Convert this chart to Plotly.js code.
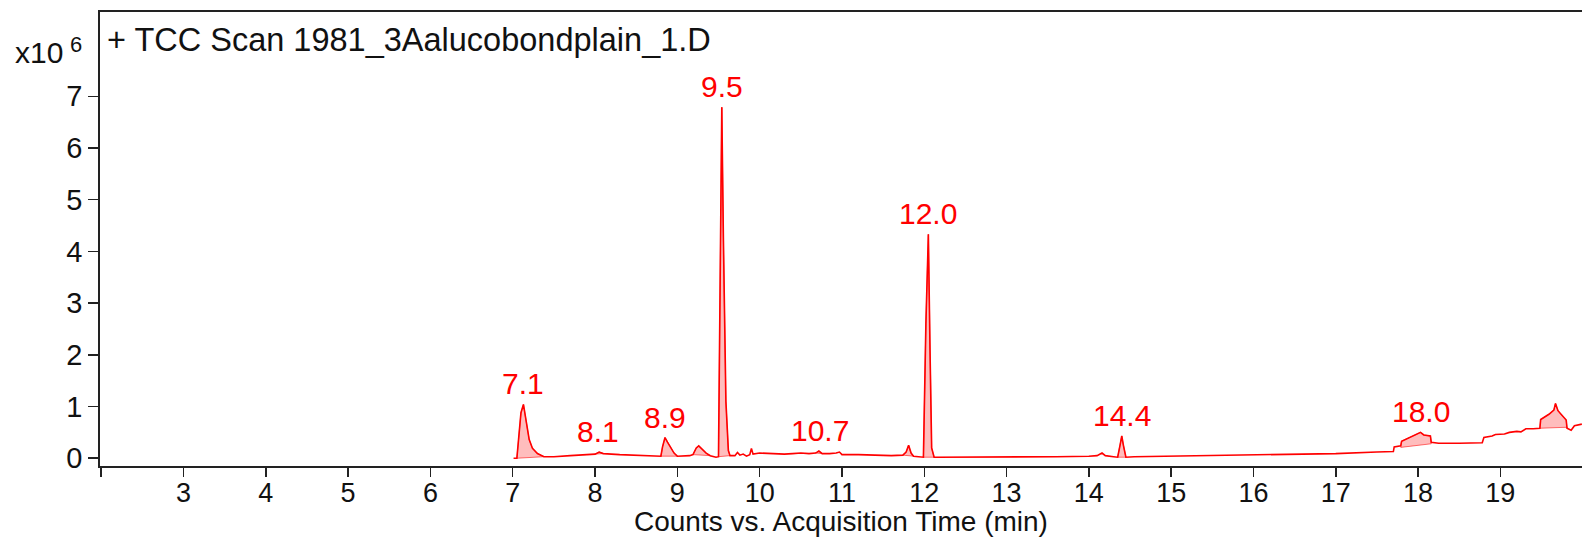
<!DOCTYPE html>
<html><head><meta charset="utf-8">
<script src="https://cdn.plot.ly/plotly-3.0.1.min.js"></script>
<style>html,body{margin:0;padding:0;background:#fff;overflow:hidden}#chart{width:1582px;height:537px}</style>
</head><body><div id="chart"></div>
<script>
// Retention time (min)
const times = [
 7.01, 7.05, 7.07, 7.10, 7.13, 7.16, 7.20, 7.24, 7.30, 7.38, 7.50, 7.70, 7.90, 8.00, 8.05, 8.10,
 8.30, 8.50, 8.70, 8.80, 8.82, 8.85, 8.88, 8.92, 8.96, 9.00, 9.15, 9.19, 9.23, 9.26, 9.30, 9.35,
 9.40, 9.47, 9.50, 9.52, 9.54, 9.56, 9.59, 9.62, 9.64, 9.70, 9.73, 9.76, 9.80, 9.84, 9.88, 9.90,
 9.92, 10.00, 10.10, 10.20, 10.30, 10.40, 10.50, 10.60, 10.68, 10.72, 10.76, 10.85, 10.93, 10.97,
 11.00, 11.20, 11.40, 11.60, 11.74, 11.78, 11.81, 11.84, 11.87, 11.95, 11.99, 12.02, 12.05, 12.07,
 12.09, 12.12, 12.40, 12.80, 13.20, 13.60, 14.00, 14.10, 14.16, 14.20, 14.30, 14.35, 14.38, 14.40,
 14.42, 14.45, 14.55, 15.00, 15.50, 16.00, 16.50, 17.00, 17.50, 17.70, 17.71, 17.79, 17.80, 17.93,
 18.03, 18.07, 18.15, 18.16, 18.25, 18.50, 18.78, 18.80, 18.90, 18.94, 19.05, 19.11, 19.20, 19.25,
 19.31, 19.40, 19.48, 19.49, 19.59, 19.65, 19.67, 19.70, 19.75, 19.80, 19.81, 19.86, 19.90, 19.99
];
// Counts (x10^6)
const counts = [
 0.00, 0.00, 0.35, 0.88, 1.04, 0.72, 0.36, 0.19, 0.09, 0.03, 0.03, 0.05, 0.07, 0.08, 0.12, 0.09,
 0.07, 0.06, 0.05, 0.04, 0.22, 0.40, 0.31, 0.20, 0.10, 0.04, 0.05, 0.07, 0.20, 0.24, 0.18, 0.10,
 0.05, 0.02, 0.03, 3.10, 6.79, 4.20, 1.10, 0.15, 0.05, 0.05, 0.11, 0.06, 0.08, 0.04, 0.07, 0.19,
 0.08, 0.10, 0.09, 0.09, 0.08, 0.09, 0.10, 0.09, 0.10, 0.14, 0.09, 0.09, 0.10, 0.12,
 0.07, 0.07, 0.06, 0.05, 0.06, 0.12, 0.25, 0.10, 0.04, 0.03, 0.02, 2.60, 4.33, 2.10,
 0.20, 0.02, 0.02, 0.02, 0.03, 0.03, 0.04, 0.05, 0.10, 0.05, 0.03, 0.02, 0.26, 0.43,
 0.25, 0.02, 0.03, 0.04, 0.05, 0.06, 0.08, 0.09, 0.12, 0.13, 0.22, 0.24, 0.33, 0.42,
 0.50, 0.45, 0.43, 0.31, 0.29, 0.29, 0.30, 0.40, 0.43, 0.46, 0.47, 0.50, 0.52, 0.51,
 0.57, 0.57, 0.58, 0.75, 0.85, 0.93, 1.06, 0.92, 0.82, 0.74, 0.58, 0.54, 0.63, 0.66
];
// Integrated peaks: window start/end and baseline values there
const integStart   = [7.05, 8.00, 8.80, 9.19, 9.50, 10.68, 11.74, 11.99, 14.35, 17.79, 19.48];
const integEnd     = [7.38, 8.10, 9.00, 9.40, 9.64, 10.76, 11.87, 12.12, 14.45, 18.16, 19.81];
const baseAtStart  = [0.00, 0.08, 0.04, 0.07, 0.03, 0.10, 0.06, 0.02, 0.02, 0.21, 0.58];
const baseAtEnd    = [0.03, 0.09, 0.04, 0.05, 0.05, 0.09, 0.04, 0.02, 0.02, 0.28, 0.60];
// Peak labels
const peakLabels      = ['7.1', '8.1', '8.9', '9.5', '10.7', '12.0', '14.4', '18.0'];
const peakLabelTimes  = [7.13, 8.04, 8.85, 9.54, 10.73, 12.05, 14.40, 18.04];
const peakLabelCounts = [1.04, 0.13, 0.40, 6.79, 0.14, 4.33, 0.43, 0.50];
// Axis ticks
const xTickVals = [2,3,4,5,6,7,8,9,10,11,12,13,14,15,16,17,18,19];
const xTickText = ['','3','4','5','6','7','8','9','10','11','12','13','14','15','16','17','18','19'];
const yTickVals = [0,1,2,3,4,5,6,7];
const xAxisTitle = 'Counts vs. Acquisition Time (min)';

const FONT = 'Liberation Sans, Arial, Helvetica, sans-serif';
const W = 1582, H = 537, L = 100, R = 0, T = 12, B = 71;
const pw = W - L - R, ph = H - T - B;
const px = x => (x - L) / pw;
const py = y => (H - B - y) / ph;

const traces = [];
for (let i = 0; i < integStart.length; i++) {
  const xs = [integStart[i]], ys = [baseAtStart[i]];
  for (let k = 0; k < times.length; k++) {
    if (times[k] >= integStart[i] && times[k] <= integEnd[i]) { xs.push(times[k]); ys.push(counts[k]); }
  }
  xs.push(integEnd[i]); ys.push(baseAtEnd[i]);
  xs.push(integStart[i]); ys.push(baseAtStart[i]);
  traces.push({x: xs, y: ys, type: 'scatter', mode: 'lines', fill: 'toself',
    fillcolor: 'rgba(255,0,0,0.26)', line: {color: 'rgba(255,0,0,0.55)', width: 1}, hoverinfo: 'skip', showlegend: false});
}
traces.push({x: times, y: counts, type: 'scatter', mode: 'lines',
  line: {color: '#ff0000', width: 1.6}, hoverinfo: 'skip', showlegend: false});

const annotations = peakLabels.map((t, i) => ({
  x: peakLabelTimes[i], y: peakLabelCounts[i], xref: 'x', yref: 'y', text: t, showarrow: false,
  xanchor: 'center', yanchor: 'bottom', yshift: 2, font: {family: FONT, size: 30, color: '#ff0000'}
}));
annotations.push({xref: 'paper', yref: 'paper', x: px(105), y: py(40), xanchor: 'left', yanchor: 'middle',
  text: '+ TCC Scan 1981_3Aalucobondplain_1.D', showarrow: false, font: {family: FONT, size: 32.5, color: '#111'}});
annotations.push({xref: 'paper', yref: 'paper', x: px(65), y: py(52), xanchor: 'right', yanchor: 'middle',
  text: 'x10', showarrow: false, font: {family: FONT, size: 30, color: '#111'}});
annotations.push({xref: 'paper', yref: 'paper', x: px(68), y: py(44), xanchor: 'left', yanchor: 'middle',
  text: '6', showarrow: false, font: {family: FONT, size: 22, color: '#111'}});
// x-axis title, placed below the tick labels
annotations.push({xref: 'paper', yref: 'paper', x: 0.5, y: py(H), xanchor: 'center', yanchor: 'bottom', yshift: -2,
  text: xAxisTitle, showarrow: false, font: {family: FONT, size: 28, color: '#111'}});

const layout = {
  width: W, height: H,
  margin: {l: L, r: R, t: T, b: B, pad: 0},
  paper_bgcolor: '#fff', plot_bgcolor: '#fff',
  showlegend: false,
  font: {family: FONT, size: 28, color: '#111'},
  xaxis: {
    range: [1.985, 19.992], tickmode: 'array', tickvals: xTickVals, ticktext: xTickText,
    ticks: 'outside', ticklen: 9, tickwidth: 1.5, tickcolor: '#222', ticklabelstandoff: -7,
    showline: true, linecolor: '#222', linewidth: 1.8, mirror: true,
    showgrid: false, zeroline: false, automargin: false,
    tickfont: {family: FONT, size: 27, color: '#111'}
  },
  yaxis: {
    range: [-0.15, 8.63], tickmode: 'array', tickvals: yTickVals,
    ticks: 'outside', ticklen: 10, tickwidth: 1.5, tickcolor: '#222',
    showline: true, linecolor: '#222', linewidth: 1.8, mirror: false,
    showgrid: false, zeroline: false, automargin: false,
    tickfont: {family: FONT, size: 29, color: '#111'}
  },
  annotations: annotations
};
Plotly.newPlot('chart', traces, layout, {staticPlot: true, displayModeBar: false});
</script></body></html>
